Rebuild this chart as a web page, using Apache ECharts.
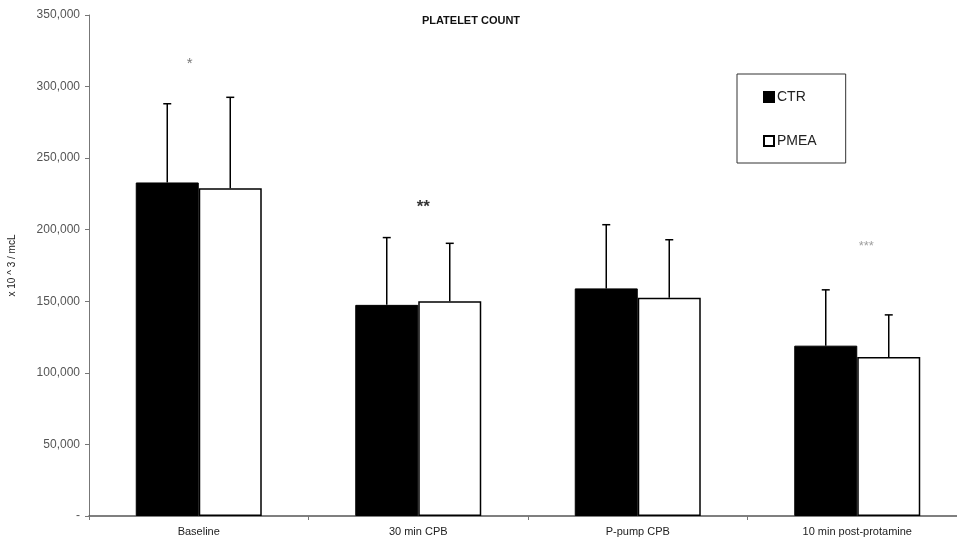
<!DOCTYPE html>
<html>
<head>
<meta charset="utf-8">
<script src="https://cdn.jsdelivr.net/npm/echarts@6/dist/echarts.min.js"></script>
<style>
  html, body { margin: 0; padding: 0; background: #fff; }
  #chart { width: 957px; height: 544px; }
</style>
</head>
<body>
<div id="chart"></div>
<script>
// Platelet count by sampling time, control vs PMEA (mean + SD)
const categories = ['Baseline', '30 min CPB', 'P-pump CPB', '10 min post-protamine'];
const ctrMean = [233000, 147500, 159000, 119000];
const ctrUpper = [288000, 194500, 203500, 158000];
const pmeaMean = [229000, 150000, 152500, 111000];
const pmeaUpper = [292500, 190500, 193000, 140500];

// significance marks and the level they sit at
const starText = ['*', '**', '', '***'];
const starLevel = [316000, 215500, 0, 188000];

const yTicks = [0, 50000, 100000, 150000, 200000, 250000, 300000, 350000];

const BAR_W = 63;

function fmtTick(v) {
  if (v === 0) return '-';
  return String(v).replace(/\B(?=(\d{3})+(?!\d))/g, ',');
}

// upward-only error bar with a small cap, shifted onto its own bar
function errorRenderer(side) {
  return function (params, api) {
    const idx = api.value(0);
    const top = api.coord([idx, api.value(2)]);
    const base = api.coord([idx, api.value(1)]);
    const x = top[0] + side * BAR_W / 2;
    const cap = 4;
    const style = { stroke: '#000', lineWidth: 1.5, fill: null };
    return {
      type: 'group',
      children: [
        { type: 'line', shape: { x1: x, y1: base[1], x2: x, y2: top[1] }, style: style },
        { type: 'line', shape: { x1: x - cap, y1: top[1], x2: x + cap, y2: top[1] }, style: style }
      ]
    };
  };
}

const starStyles = [
  { offset: [-9, 0], color: '#555', fontSize: 15, fontWeight: 'normal' },
  { offset: [5, 0], color: '#000', fontSize: 17, fontWeight: 'bold' },
  { offset: [0, 0], color: '#000', fontSize: 12, fontWeight: 'normal' },
  { offset: [9, 0], color: '#888', fontSize: 13, fontWeight: 'normal' }
];

const starData = categories.map((c, i) => ({
  value: [i, starLevel[i]],
  label: {
    show: starText[i] !== '',
    formatter: starText[i],
    position: 'inside',
    offset: starStyles[i].offset,
    color: starStyles[i].color,
    fontSize: starStyles[i].fontSize,
    fontWeight: starStyles[i].fontWeight,
    fontFamily: 'Liberation Sans'
  }
}));

const chart = echarts.init(document.getElementById('chart'), null, { renderer: 'canvas' });

chart.setOption({
  animation: false,
  backgroundColor: '#fff',
  textStyle: { fontFamily: 'Liberation Sans' },
  title: {
    text: 'PLATELET COUNT',
    left: 466,
    textAlign: 'center',
    top: 10,
    textStyle: { fontSize: 11, fontWeight: 'bold', color: '#111', fontFamily: 'Liberation Sans' }
  },
  legend: {
    orient: 'vertical',
    left: 737,
    top: 74,
    padding: [16, 29, 15, 26],
    itemGap: 30,
    itemWidth: 10,
    itemHeight: 10,
    icon: 'rect',
    borderColor: '#333',
    borderWidth: 1,
    data: ['CTR', 'PMEA'],
    textStyle: { fontSize: 14, color: '#222', padding: [0, 0, 0, -2], fontFamily: 'Liberation Sans' }
  },
  // the last category band runs a little past the right edge of the canvas
  grid: { left: 89, right: -10, top: 15, bottom: 28, containLabel: false, outerBoundsMode: 'none' },
  xAxis: {
    type: 'category',
    data: categories,
    axisLine: { lineStyle: { color: '#555', width: 1.5 } },
    axisTick: { show: true, length: 4, lineStyle: { color: '#777' } },
    axisLabel: { color: '#222', fontSize: 11, margin: 10, fontFamily: 'Liberation Sans' }
  },
  yAxis: {
    type: 'value',
    min: yTicks[0],
    max: yTicks[yTicks.length - 1],
    interval: yTicks[1] - yTicks[0],
    name: 'x 10 ^ 3 / mcL',
    nameLocation: 'middle',
    nameGap: 72,
    nameTextStyle: { fontSize: 10, color: '#222', fontFamily: 'Liberation Sans' },
    axisLine: { show: true, lineStyle: { color: '#777', width: 1 } },
    axisTick: { show: true, length: 4, lineStyle: { color: '#777' } },
    splitLine: { show: false },
    axisLabel: { color: '#555', fontSize: 12, margin: 9, formatter: fmtTick, fontFamily: 'Liberation Sans' }
  },
  series: [
    {
      name: 'CTR',
      type: 'bar',
      data: ctrMean,
      barWidth: BAR_W,
      barGap: '0%',
      itemStyle: { color: '#000', borderColor: '#000', borderWidth: 1 }
    },
    {
      name: 'PMEA',
      type: 'bar',
      data: pmeaMean,
      barWidth: BAR_W,
      barGap: '0%',
      itemStyle: { color: '#fff', borderColor: '#000', borderWidth: 1.5 }
    },
    {
      name: 'CTR SD',
      type: 'custom',
      renderItem: errorRenderer(-1),
      data: categories.map((c, i) => [i, ctrMean[i], ctrUpper[i]]),
      z: 3
    },
    {
      name: 'PMEA SD',
      type: 'custom',
      renderItem: errorRenderer(1),
      data: categories.map((c, i) => [i, pmeaMean[i], pmeaUpper[i]]),
      z: 3
    },
    {
      name: 'significance',
      type: 'scatter',
      symbolSize: 0,
      data: starData,
      z: 4
    }
  ]
});
</script>
</body>
</html>
